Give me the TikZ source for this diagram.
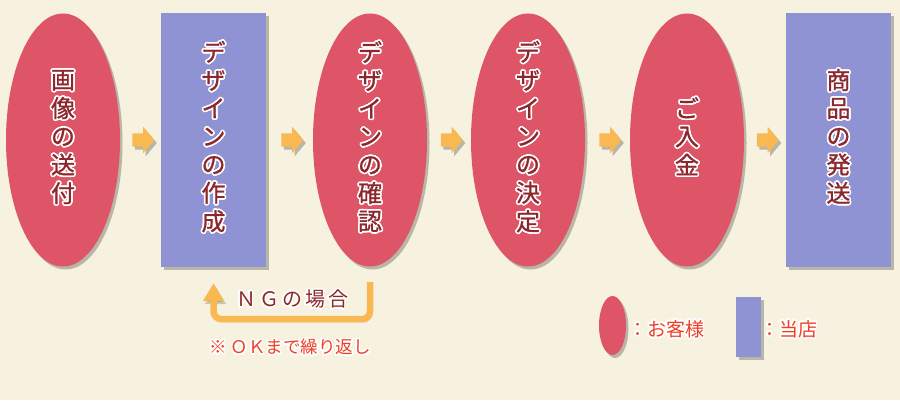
\documentclass[tikz,border=0pt]{standalone}
\usepackage{fontspec}
\setmainfont{Noto Sans CJK JP}
\usepackage{contour}
\contourlength{1.7pt}
\contournumber{12}
\usetikzlibrary{shapes.geometric,shapes.arrows,shadows,arrows.meta,calc}

\definecolor{bgcream}{HTML}{F7F2E0}
\definecolor{custred}{HTML}{DE5567}
\definecolor{shopblue}{HTML}{8F93D3}
\definecolor{arroworange}{HTML}{FAB950}
\definecolor{textred}{HTML}{8C282D}
\definecolor{notered}{HTML}{EE3F24}

% white outline round the text
\newcommand\halo[1]{\contour{white}{#1}}
% vertical text, one character per row, not counted in the node size
\newcommand\tate[1]{\smash{\makebox[0pt]{\raisebox{-6pt}{\halo{\begin{tabular}{@{}c@{}}#1\end{tabular}}}}}}

\begin{document}
\begin{tikzpicture}[x=1pt,y=1pt,
        shade/.style={drop shadow={shadow xshift=2.5pt,shadow yshift=-3pt,fill=black,opacity=0.25}},
        customer/.style={ellipse,fill=custred,minimum width=114,minimum height=253,inner sep=0,
            shade,text=textred,font=\fontsize{24}{28}\selectfont\addfontfeature{FakeBold=1}},
        shop/.style={rectangle,fill=shopblue,minimum width=105,minimum height=254,inner sep=0,
            shade,text=textred,font=\fontsize{24}{28}\selectfont\addfontfeature{FakeBold=1}},
        flow/.style={single arrow,fill=arroworange,minimum height=22,inner xsep=0,inner ysep=6.5,
            single arrow head extend=6.5,single arrow tip angle=100,shade},
        loopline/.style={draw=arroworange,line width=6.5,rounded corners=8,
            -{Triangle[width=20,length=18]},
            preaction={draw=black,opacity=0.18,transform canvas={shift={(2pt,-3pt)}}}},
        notetext/.style={inner sep=0,text=notered},
    ]
        % background
        \fill[bgcream] (0,0) rectangle (900,400);
        \useasboundingbox (0,0) rectangle (900,400);

        % steps
        \node[customer] (n1) at (63,260) {\tate{画\\像\\の\\送\\付}};
        \node[shop] (n2) at (213.5,260) {\tate{デ\\ザ\\イ\\ン\\の\\作\\成}};
        \node[customer] (n3) at (370,260) {\tate{デ\\ザ\\イ\\ン\\の\\確\\認}};
        \node[customer] (n4) at (528,260) {\tate{デ\\ザ\\イ\\ン\\の\\決\\定}};
        \node[customer] (n5) at (687,260) {\tate{ご\\入\\金}};
        \node[shop] (n6) at (838.5,260) {\tate{商\\品\\の\\発\\送}};

        % arrows between steps
        \node[flow] (a1) at ($(n1.east)!0.5!(n2.west)$) {};
        \node[flow] (a2) at ($(n2.east)!0.5!(n3.west)$) {};
        \node[flow] (a3) at ($(n3.east)!0.5!(n4.west)$) {};
        \node[flow] (a4) at ($(n4.east)!0.5!(n5.west)$) {};
        \node[flow] (a5) at ($(n5.east)!0.5!(n6.west)$) {};

        % back to step 2
        \draw[loopline] ([yshift=-15.5]n3.south) -- ++(0,-37) -| ([yshift=-16]n2.south);
        \node[inner sep=0,text=textred,font=\fontsize{20}{24}\selectfont\addfontfeature{LetterSpace=15}]
            (ng) at (292,100) {\halo{ＮＧの場合}};
        \node[notetext,font=\fontsize{17.5}{20}\selectfont] (again) at (290,52)
            {\halo{※ ＯＫまで繰り返し}};

        % legend
        \node[customer,minimum width=27,minimum height=59] (lc) at (612.5,74.5) {};
        \node[notetext,anchor=west,font=\fontsize{19}{22}\selectfont] (lct) at (628,70)
            {\halo{：お客様}};
        \node[shop,minimum width=25,minimum height=60] (ls) at (748.5,73) {};
        \node[notetext,anchor=west,font=\fontsize{19}{22}\selectfont] (lst) at (760,70)
            {\halo{：当店}};
\end{tikzpicture}
\end{document}
